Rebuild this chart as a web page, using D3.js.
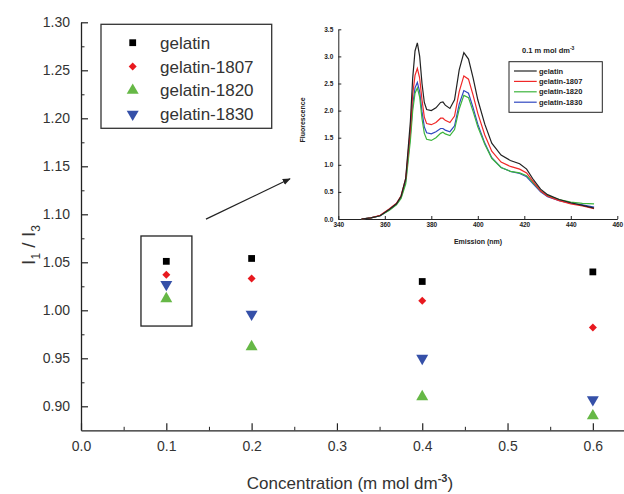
<!DOCTYPE html>
<html>
<head>
<meta charset="utf-8">
<script src="https://cdn.jsdelivr.net/npm/d3@7"></script>
<style>
  body { margin: 0; background: #fff; }
  svg { display: block; font-family: 'Liberation Sans', Arial, sans-serif; }
</style>
</head>
<body>
<div id="chart"></div>
<script>
// main plot data
const concentrations = [0.1, 0.2, 0.4, 0.6]
const seriesNames = ['gelatin', 'gelatin-1807', 'gelatin-1820', 'gelatin-1830']
const gelatin = [1.051, 1.054, 1.030, 1.040]
const gelatin1807 = [1.037, 1.033, 1.010, 0.982]
const gelatin1820 = [1.012, 0.962, 0.910, 0.890]
const gelatin1830 = [1.027, 0.996, 0.950, 0.907]
const yTicks = [0.90, 0.95, 1.00, 1.05, 1.10, 1.15, 1.20, 1.25, 1.30]
const xTicks = [0.0, 0.1, 0.2, 0.3, 0.4, 0.5, 0.6]

// inset spectra (0.1 m mol dm-3)
const wavelength = [350, 354, 358, 362, 365, 367, 369, 371, 372, 373, 374, 375, 376, 377, 378, 380, 382, 384, 385, 386, 388, 390, 392, 394, 396, 398, 400, 403, 406, 410, 414, 418, 421, 424, 427, 430, 435, 440, 445, 450]
const specGelatin = [0.00, 0.02, 0.06, 0.18, 0.28, 0.42, 0.75, 1.80, 2.60, 3.10, 3.25, 3.00, 2.50, 2.15, 2.02, 2.00, 2.05, 2.15, 2.16, 2.10, 2.04, 2.20, 2.75, 3.07, 2.95, 2.60, 2.20, 1.75, 1.40, 1.18, 1.08, 1.02, 0.92, 0.72, 0.55, 0.45, 0.36, 0.30, 0.25, 0.20]
const spec1807 = [0.00, 0.02, 0.07, 0.19, 0.29, 0.43, 0.75, 1.65, 2.30, 2.65, 2.78, 2.60, 2.20, 1.88, 1.76, 1.74, 1.78, 1.86, 1.86, 1.82, 1.78, 1.90, 2.35, 2.64, 2.58, 2.28, 1.95, 1.55, 1.25, 1.05, 0.97, 0.92, 0.85, 0.68, 0.52, 0.42, 0.34, 0.28, 0.24, 0.19]
const spec1820 = [0.00, 0.02, 0.06, 0.16, 0.26, 0.38, 0.65, 1.45, 2.00, 2.32, 2.42, 2.25, 1.85, 1.58, 1.47, 1.45, 1.50, 1.58, 1.60, 1.57, 1.54, 1.65, 2.03, 2.28, 2.24, 1.98, 1.70, 1.38, 1.12, 0.95, 0.88, 0.85, 0.80, 0.66, 0.52, 0.43, 0.36, 0.31, 0.29, 0.28]
const spec1830 = [0.00, 0.02, 0.06, 0.17, 0.27, 0.40, 0.70, 1.55, 2.10, 2.42, 2.52, 2.35, 1.98, 1.70, 1.59, 1.57, 1.61, 1.67, 1.67, 1.64, 1.61, 1.72, 2.12, 2.37, 2.32, 2.05, 1.75, 1.40, 1.13, 0.95, 0.88, 0.84, 0.78, 0.64, 0.50, 0.41, 0.34, 0.29, 0.26, 0.22]
const insetXTicks = [340, 360, 380, 400, 420, 440, 460]
const insetYTicks = [0.0, 0.5, 1.0, 1.5, 2.0, 2.5, 3.0, 3.5]

const width = 624
const height = 494
const textColor = '#333'

const svg = d3.select('#chart')
  .append('svg')
  .attr('width', width)
  .attr('height', height)

const x = d3.scaleLinear().domain([0, 0.65]).range([81, 635.5])
const y = d3.scaleLinear().domain([0.875, 1.30]).range([430.3, 22.3])

// minor ticks first
svg.append('g')
  .attr('transform', 'translate(81,0)')
  .call(d3.axisLeft(y).tickValues(d3.range(0.925, 1.30, 0.05)).tickSize(-3.5).tickFormat(''))
  .call(g => g.select('.domain').remove())
svg.append('g')
  .attr('transform', 'translate(0,430.3)')
  .call(d3.axisBottom(x).tickValues(d3.range(0.05, 0.65, 0.1)).tickSize(-3.5).tickFormat(''))
  .call(g => g.select('.domain').remove())

const yAxis = svg.append('g')
  .attr('transform', 'translate(81,0)')
  .call(d3.axisLeft(y).tickValues(yTicks).tickSize(-7).tickSizeOuter(0).tickPadding(11).tickFormat(d3.format('.2f')))
const xAxis = svg.append('g')
  .attr('transform', 'translate(0,430.3)')
  .call(d3.axisBottom(x).tickValues(xTicks).tickSize(-7).tickSizeOuter(0).tickPadding(11).tickFormat(d3.format('.1f')))

for (const ax of [yAxis, xAxis]) {
  ax.selectAll('text').attr('fill', textColor).style('font-size', '14px').style('font-family', "'Liberation Sans', Arial, sans-serif")
  ax.select('.domain').attr('stroke', '#222').attr('stroke-width', 1.3)
  ax.selectAll('line').attr('stroke', '#222').attr('stroke-width', 1.2)
}
svg.selectAll('.tick line').attr('stroke', '#222')

// axis titles
const xTitle = svg.append('text')
  .attr('x', 350)
  .attr('y', 489)
  .attr('text-anchor', 'middle')
  .attr('fill', textColor)
  .style('font-size', '17px')
xTitle.append('tspan').text('Concentration (m mol dm')
xTitle.append('tspan').attr('dy', -7).style('font-size', '11px').style('font-weight', 'bold').text('-3')
xTitle.append('tspan').attr('dy', 7).text(')')

const yTitle = svg.append('text')
  .attr('transform', 'translate(35,245) rotate(-90)')
  .attr('text-anchor', 'middle')
  .attr('fill', textColor)
  .style('font-size', '19px')
yTitle.append('tspan').text('I')
yTitle.append('tspan').attr('dy', 5).style('font-size', '12px').text('1')
yTitle.append('tspan').attr('dy', -5).text(' / I')
yTitle.append('tspan').attr('dy', 5).style('font-size', '12px').text('3')

// symbols
const series = [
  { name: seriesNames[0], values: gelatin, color: '#000000', symbol: d3.symbolSquare, size: 46, rotate: 0 },
  { name: seriesNames[1], values: gelatin1807, color: '#e8191f', symbol: d3.symbolSquare, size: 32, rotate: 45 },
  { name: seriesNames[2], values: gelatin1820, color: '#66b846', symbol: d3.symbolTriangle, size: 62, rotate: 0 },
  { name: seriesNames[3], values: gelatin1830, color: '#3550a8', symbol: d3.symbolTriangle, size: 62, rotate: 180 }
]

series.forEach(s => {
  svg.append('g')
    .selectAll('path')
    .data(concentrations.map((c, i) => [c, s.values[i]]))
    .enter()
    .append('path')
    .attr('d', d3.symbol().type(s.symbol).size(s.size))
    .attr('transform', d => 'translate(' + x(d[0]) + ',' + y(d[1]) + ') rotate(' + s.rotate + ')')
    .attr('fill', s.color)
})

// legend
const legend = svg.append('g')
legend.append('rect')
  .attr('x', 101).attr('y', 24.3).attr('width', 170.7).attr('height', 104)
  .attr('fill', 'none').attr('stroke', '#333').attr('stroke-width', 1.3)
series.forEach((s, i) => {
  const ly = 42.7 + i * 23.8
  legend.append('path')
    .attr('d', d3.symbol().type(s.symbol).size(s.size))
    .attr('transform', 'translate(132.7,' + ly + ') rotate(' + s.rotate + ')')
    .attr('fill', s.color)
  legend.append('text')
    .attr('x', 160).attr('y', ly + 6)
    .attr('fill', textColor)
    .style('font-size', '17px')
    .text(s.name)
})

// box around the 0.1 points and arrow to the inset
svg.append('rect')
  .attr('x', x(0.0703)).attr('y', y(1.0774))
  .attr('width', x(0.130) - x(0.0703)).attr('height', y(0.9836) - y(1.0774))
  .attr('fill', 'none').attr('stroke', '#222').attr('stroke-width', 1.3)

svg.append('defs').append('marker')
  .attr('id', 'arrow')
  .attr('viewBox', '0 0 10 10')
  .attr('refX', 9).attr('refY', 5)
  .attr('markerWidth', 8).attr('markerHeight', 8)
  .attr('markerUnits', 'userSpaceOnUse')
  .attr('orient', 'auto')
  .append('path')
  .attr('d', 'M0,1L10,5L0,9Z')
  .attr('fill', '#222')

svg.append('line')
  .attr('x1', x(0.1465)).attr('y1', y(1.095))
  .attr('x2', x(0.245)).attr('y2', y(1.137))
  .attr('stroke', '#222').attr('stroke-width', 1.2)
  .attr('marker-end', 'url(#arrow)')

// inset chart
const ix = d3.scaleLinear().domain([340, 460]).range([338.3, 617.3])
const iy = d3.scaleLinear().domain([0, 3.5]).range([219, 29.3])
const inset = svg.append('g')
const insetFont = "'Liberation Sans', Arial, sans-serif"

const ixAxis = inset.append('g')
  .attr('transform', 'translate(0,219)')
  .call(d3.axisBottom(ix).tickValues(insetXTicks).tickSize(-3).tickSizeOuter(0).tickPadding(3).tickFormat(d3.format('d')))
const iyAxis = inset.append('g')
  .attr('transform', 'translate(338.3,0)')
  .call(d3.axisLeft(iy).tickValues(insetYTicks).tickSize(-3).tickSizeOuter(0).tickPadding(5).tickFormat(d3.format('.1f')))
for (const ax of [ixAxis, iyAxis]) {
  ax.selectAll('text').attr('fill', '#222').style('font-size', '6.5px').style('font-weight', 'bold').style('font-family', insetFont)
  ax.select('.domain').attr('stroke', '#222').attr('stroke-width', 1)
  ax.selectAll('line').attr('stroke', '#222')
}

inset.append('text')
  .attr('x', 478).attr('y', 244)
  .attr('text-anchor', 'middle')
  .attr('fill', '#222')
  .style('font-size', '7px').style('font-weight', 'bold')
  .text('Emission (nm)')

inset.append('text')
  .attr('transform', 'translate(305,120) rotate(-90)')
  .attr('text-anchor', 'middle')
  .attr('fill', '#222')
  .style('font-size', '7px').style('font-weight', 'bold')
  .text('Fluorescence')

const spectra = [
  { name: 'gelatin', values: specGelatin, color: '#222222' },
  { name: 'gelatin-1807', values: spec1807, color: '#f02828' },
  { name: 'gelatin-1820', values: spec1820, color: '#3cb43c' },
  { name: 'gelatin-1830', values: spec1830, color: '#3048c0' }
]

const line = d3.line()
  .x((d, i) => ix(wavelength[i]))
  .y(d => iy(d))

// draw back to front so green and blue sit above in the rise
spectra.slice().reverse().forEach(s => {
  inset.append('path')
    .datum(s.values)
    .attr('d', line)
    .attr('fill', 'none')
    .attr('stroke', s.color)
    .attr('stroke-width', 1.2)
})

const title = inset.append('text')
  .attr('x', 522).attr('y', 53)
  .attr('fill', '#222')
  .style('font-size', '7.5px').style('font-weight', 'bold')
title.append('tspan').text('0.1 m mol dm')
title.append('tspan').attr('dy', -3).style('font-size', '5px').text('-3')

inset.append('rect')
  .attr('x', 509).attr('y', 61.7).attr('width', 93.3).attr('height', 50.6)
  .attr('fill', 'none').attr('stroke', '#222').attr('stroke-width', 1)

spectra.forEach((s, i) => {
  const ly = 71 + i * 10.4
  inset.append('line')
    .attr('x1', 514).attr('x2', 536.7).attr('y1', ly).attr('y2', ly)
    .attr('stroke', s.color).attr('stroke-width', 1.2)
  inset.append('text')
    .attr('x', 539).attr('y', ly + 2.5)
    .attr('fill', '#222')
    .style('font-size', '7.5px').style('font-weight', 'bold')
    .text(s.name)
})
</script>
</body>
</html>
